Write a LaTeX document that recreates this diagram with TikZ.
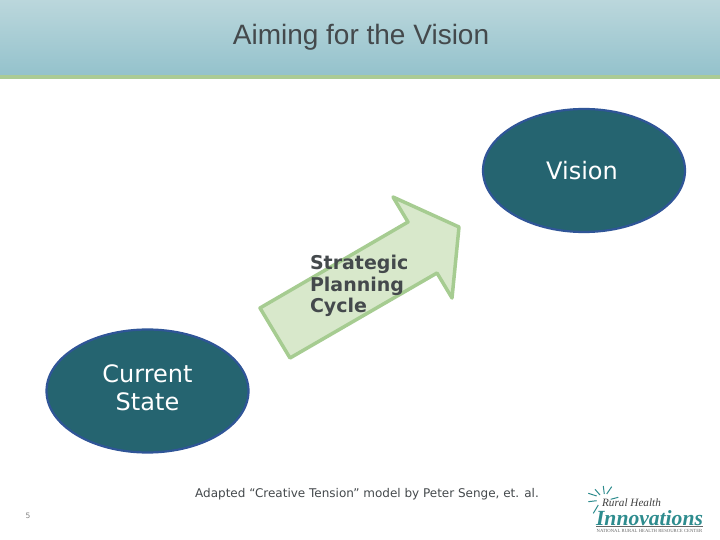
\documentclass[tikz,border=0pt]{standalone}
\usepackage{fontspec}
\setmainfont{DejaVu Sans}
\newfontfamily\titlefont{Liberation Sans}
\newfontfamily\logofont{Liberation Serif}
\usetikzlibrary{shapes.geometric}
\definecolor{oval}{HTML}{256470}
\definecolor{ovaledge}{HTML}{2F5597}
\definecolor{arrowfill}{HTML}{D8E8CB}
\definecolor{arrowedge}{HTML}{A6CC91}
\definecolor{ink}{HTML}{44494C}
\definecolor{bandtop}{HTML}{BBD7DC}
\definecolor{bandbot}{HTML}{94C2CC}
\definecolor{bandline}{HTML}{ABCB95}
\definecolor{logoteal}{HTML}{2E8C8E}
\tikzset{
  x=1pt,y=-1pt,
  goal/.style={ellipse,draw=ovaledge,line width=2.2pt,fill=oval,text=white,minimum width=202pt,minimum height=123pt,inner sep=0pt,align=center,font=\fontsize{24}{28}\selectfont},
  ray/.style={logoteal,line width=1pt},
  logotext/.style={inner sep=0pt}
}
\begin{document}
\begin{tikzpicture}
\useasboundingbox (0,0) rectangle (720,540);
\fill[white] (0,0) rectangle (720,540);
\shade[top color=bandtop,bottom color=bandbot] (0,0) rectangle (720,75);
\fill[bandline] (0,75) rectangle (720,79);
\node (title) at (361,37) [text=ink,font=\titlefont\fontsize{28}{32}\selectfont] {Aiming for the Vision};
\node[goal] (vision) at (584,170.5) {\hspace{-4pt}Vision};
\node[goal] (current) at (147.5,391) {\raisebox{4pt}{\begin{tabular}{@{}c@{}}Current\\State\end{tabular}}};
\draw[line width=3.5pt,draw=arrowedge,fill=arrowfill,line join=round]
  (260,308) -- (408,222) -- (393,197) -- (459,227) -- (452,298) -- (437,273) -- (290,358) -- cycle;
\node (cycle) at (306.5,286) [anchor=west,text=ink,align=left,font=\bfseries\fontsize{19}{21.5}\selectfont] {Strategic\\Planning\\Cycle};
\node (credit) at (367,494) [text=ink,font=\fontsize{12}{14}\selectfont] {Adapted “Creative Tension” model by Peter Senge, et. al.};
\node (page) at (28,515.5) [text=gray,font=\fontsize{7.5}{9}\selectfont] {5};
% logo
\draw[ray] (588.3,493.3) -- (596.7,496) (588.3,501.7) -- (596.7,500.7) (593.3,513.3) -- (598.3,505)
  (595,489.3) -- (600,495) (603.3,486) -- (604.3,494) (611.7,486.7) -- (606.7,494) (618.3,497.3) -- (610.7,499.3);
\node[logotext] (rural) at (631.5,503) [text=black!75,font=\logofont\itshape\fontsize{11.2}{12}\selectfont] {Rural Health};
\node[logotext] (innov) at (649.5,518) [text=logoteal,font=\logofont\itshape\bfseries\fontsize{21.6}{22}\selectfont] {Innovations};
\draw[black!60,line width=0.5pt] (596,526.7) -- (703,526.7);
\node[logotext] (centre) at (649.5,530.5) [text=black!60,font=\logofont\fontsize{4.7}{5}\selectfont] {NATIONAL RURAL HEALTH RESOURCE CENTER};
\end{tikzpicture}
\end{document}
